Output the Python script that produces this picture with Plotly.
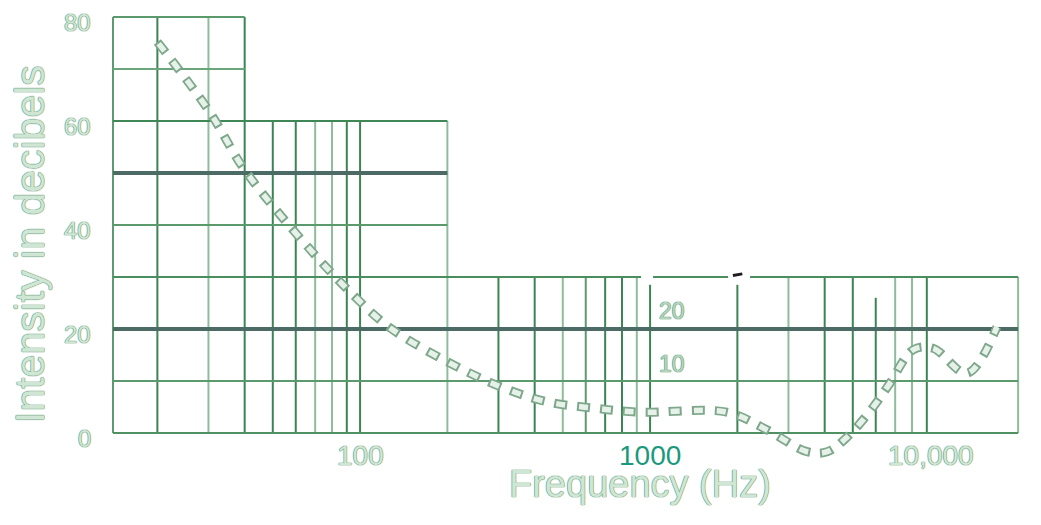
import math
import plotly.graph_objects as go

# ---------------- data ----------------
# hearing-threshold curve (frequency in Hz, intensity in dB)
curve_freq = [20, 30, 40, 66, 96, 127, 200, 311, 441, 636, 924, 1840, 2530,
              3480, 4080, 4780, 5880, 6720, 8070, 9460, 12400, 15700]
curve_db = [75.2, 62.1, 50.6, 35.8, 26.2, 20.2, 13.7, 8.7, 6.0, 4.8, 4.0, 4.0, 0.6,
            -3.6, -3.6, -0.8, 5.0, 9.6, 16.0, 16.3, 11.5, 20.4]

# grid extent
f_left = 14.06
f_right = 18580

# vertical grid lines: frequency and the height (dB) each one reaches
vgrid_freq = [f_left, 20, 30, 40,
              50, 60, 70, 80, 90, 100, 200,
              300, 400, 500, 600, 700, 800, 900, 1000,
              2000, 3000, 4000, 5000, 6000, 7000, 8000, 9000, f_right]
vgrid_top = [80, 80, 80, 80,
             60, 60, 60, 60, 60, 60, 60,
             30, 30, 30, 30, 30, 30, 30, 28.5,
             28.5, 30, 30, 30, 26, 30, 30, 30, 30]
vgrid_tone = ["m", "d", "l", "d",
              "d", "d", "l", "l", "d", "d", "l",
              "d", "d", "l", "m", "d", "d", "l", "d",
              "d", "l", "d", "d", "d", "l", "l", "d", "l"]

# horizontal grid lines: level (dB) and the frequency where each one ends
hgrid_db = [0, 10, 20, 40, 50, 60, 70, 80]
hgrid_end = [f_right, f_right, f_right, 200, 200, 200, 40, 40]
heavy_db = [20, 50]

# the 30 dB top edge is broken into pieces
top30_segments = [(f_left, 931), (1024, 1858), (2212, f_right)]
top30_mark = (1930, 2080)

y_ticks = [0, 20, 40, 60, 80]
x_tick_freq = [100, 1000, 10000]
x_tick_text = ["100", "1000", "10,000"]

inner_labels = ["20", "10"]
inner_label_db = [23.5, 13.3]
inner_label_freq = 1190

# ---------------- styling / layout ----------------
FONT = "Liberation Sans"
tone_color = {"d": "#3b8453", "m": "#5c9a6f", "l": "#8dbd9b"}
h_color = {0: "#4f9163", 10: "#5a9a6c", 40: "#5a9a6c", 60: "#3f8757",
           70: "#6aa57b", 80: "#5a9a6c"}
heavy_color = "#4b6b64"
label_fill = "#cfe6d5"
label_outline = "0 0 1px #5e9470, 0 0 1px #5e9470, 0 0 1px #5e9470"

# page body is offset by 8px, so the plot box is placed accordingly
ML, MR, MT, MB = 102, 28, 2, 63
PW = 1041 - ML - MR
PH = 525 - MT - MB

shapes = []
for f, top, tone in zip(vgrid_freq, vgrid_top, vgrid_tone):
    shapes.append(dict(type="line", xref="x", yref="y", x0=f, x1=f, y0=0, y1=top,
                       line=dict(color=tone_color[tone], width=2), layer="below"))
for lvl, end in zip(hgrid_db, hgrid_end):
    heavy = lvl in heavy_db
    shapes.append(dict(type="line", xref="x", yref="y", x0=f_left, x1=end, y0=lvl, y1=lvl,
                       line=dict(color=heavy_color if heavy else h_color[lvl],
                                 width=4 if heavy else 2), layer="below"))
for a, b in top30_segments:
    shapes.append(dict(type="line", xref="x", yref="y", x0=a, x1=b, y0=30, y1=30,
                       line=dict(color="#4a8d5e", width=2), layer="below"))
shapes.append(dict(type="line", xref="x", yref="y", x0=top30_mark[0], x1=top30_mark[1],
                   y0=30.3, y1=30.6, line=dict(color="#1e1e1e", width=3), layer="below"))

fig = go.Figure()
fig.add_trace(go.Scatter(x=curve_freq, y=curve_db, mode="lines",
                         line=dict(color="#7ea78b", width=9, dash="13px,10px", shape="spline"),
                         hoverinfo="skip", showlegend=False))
fig.add_trace(go.Scatter(x=curve_freq, y=curve_db, mode="lines",
                         line=dict(color="#e6f2e9", width=5.5, dash="0px,2px,9px,12px", shape="spline"),
                         hoverinfo="skip", showlegend=False))

annotations = []
for v in y_ticks:
    annotations.append(dict(
        x=(85 - ML) / PW, y=v, xref="paper", yref="y", text=str(v), showarrow=False,
        xanchor="right", yanchor="middle", yshift=-5,
        font=dict(family=FONT, size=24, color=label_fill, shadow=label_outline)))
for f, t in zip(x_tick_freq, x_tick_text):
    is_k = t == "1000"
    annotations.append(dict(
        x=math.log10(f), y=-4.3, xref="x", yref="y", text=t, showarrow=False,
        xanchor="center", yanchor="middle", xshift=-9 if t == "10,000" else 0,
        font=dict(family=FONT, size=28, color="#199a7c" if is_k else label_fill,
                  shadow="none" if is_k else label_outline)))
for t, d in zip(inner_labels, inner_label_db):
    annotations.append(dict(
        x=math.log10(inner_label_freq), y=d, xref="x", yref="y", text=t, showarrow=False,
        xanchor="center", yanchor="middle",
        font=dict(family=FONT, size=23, color="#b5d5bf", shadow=label_outline)))
annotations.append(dict(
    x=(632 - ML) / PW, y=(525 - MB - 476) / PH, xref="paper", yref="paper",
    text="Frequency (Hz)", showarrow=False, xanchor="center", yanchor="middle",
    font=dict(family=FONT, size=38, color=label_fill, shadow=label_outline)))
annotations.append(dict(
    x=(22 - ML) / PW, y=(525 - MB - 236) / PH, xref="paper", yref="paper",
    text="Intensity in decibels", showarrow=False, textangle=-90,
    xanchor="center", yanchor="middle",
    font=dict(family=FONT, size=41, color=label_fill, shadow=label_outline)))

px_per_dec = 290
x_lo = math.log10(f_left) - 3 / px_per_dec
x_hi = x_lo + PW / px_per_dec
px_per_db = 5.2
y_lo = -(PH - 80 * px_per_db - 7) / px_per_db
y_hi = 80 + 7 / px_per_db

fig.update_layout(
    width=1041, height=525,
    margin=dict(l=ML, r=MR, t=MT, b=MB, autoexpand=False),
    paper_bgcolor="white", plot_bgcolor="white",
    shapes=shapes, annotations=annotations,
    xaxis=dict(type="log", range=[x_lo, x_hi], showgrid=False, zeroline=False,
               showline=False, showticklabels=False, ticks="", automargin=False),
    yaxis=dict(range=[y_lo, y_hi], showgrid=False, zeroline=False,
               showline=False, showticklabels=False, ticks="", automargin=False),
)

fig.write_html("out.html")
